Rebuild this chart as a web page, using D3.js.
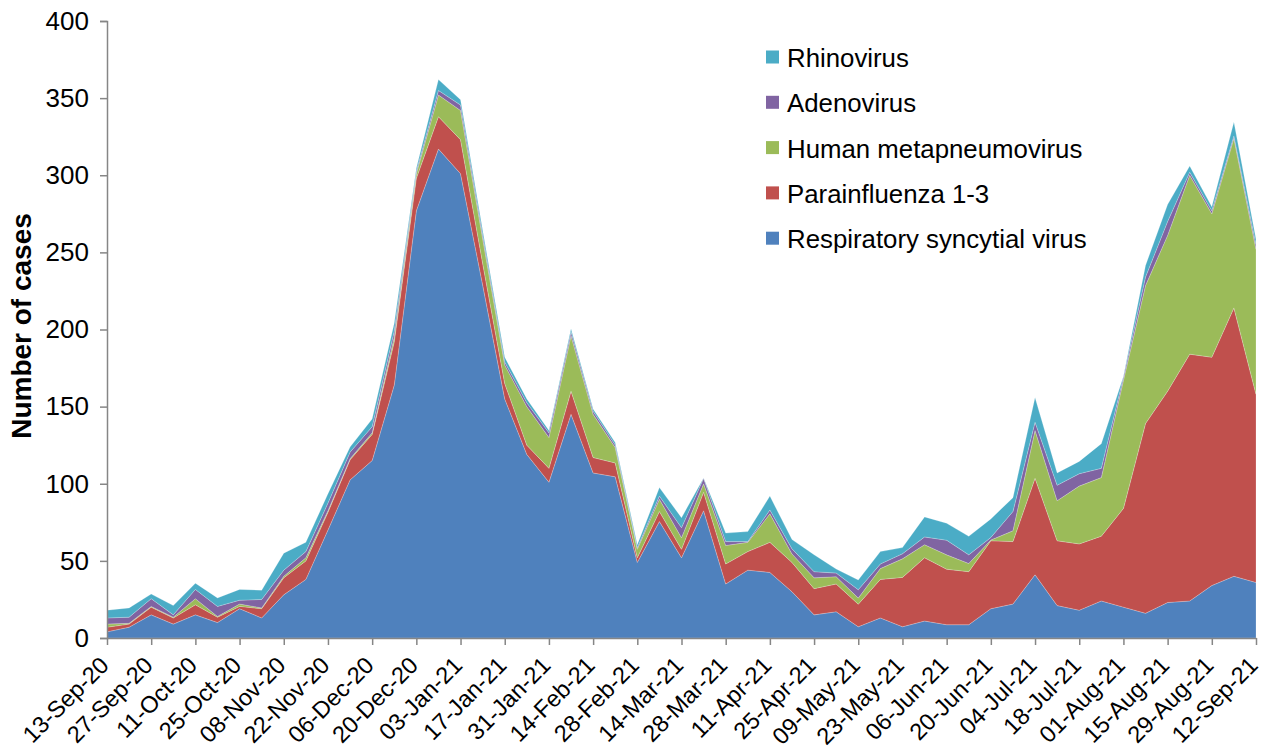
<!DOCTYPE html>
<html><head><meta charset="utf-8">
<script src="https://cdn.jsdelivr.net/npm/d3@7"></script>
<style>body{margin:0;background:#fff}svg{display:block}</style>
</head><body>
<svg id="c" width="1266" height="753"></svg>
<script>
const weeks = ["13-Sep-20","20-Sep-20","27-Sep-20","04-Oct-20","11-Oct-20","18-Oct-20","25-Oct-20","01-Nov-20","08-Nov-20","15-Nov-20","22-Nov-20","29-Nov-20","06-Dec-20","13-Dec-20","20-Dec-20","27-Dec-20","03-Jan-21","10-Jan-21","17-Jan-21","24-Jan-21","31-Jan-21","07-Feb-21","14-Feb-21","21-Feb-21","28-Feb-21","07-Mar-21","14-Mar-21","21-Mar-21","28-Mar-21","04-Apr-21","11-Apr-21","18-Apr-21","25-Apr-21","02-May-21","09-May-21","16-May-21","23-May-21","30-May-21","06-Jun-21","13-Jun-21","20-Jun-21","27-Jun-21","04-Jul-21","11-Jul-21","18-Jul-21","25-Jul-21","01-Aug-21","08-Aug-21","15-Aug-21","22-Aug-21","29-Aug-21","05-Sep-21","12-Sep-21"];
const tickLabels = ["13-Sep-20","27-Sep-20","11-Oct-20","25-Oct-20","08-Nov-20","22-Nov-20","06-Dec-20","20-Dec-20","03-Jan-21","17-Jan-21","31-Jan-21","14-Feb-21","28-Feb-21","14-Mar-21","28-Mar-21","11-Apr-21","25-Apr-21","09-May-21","23-May-21","06-Jun-21","20-Jun-21","04-Jul-21","18-Jul-21","01-Aug-21","15-Aug-21","29-Aug-21","12-Sep-21"];
const yTicks = [0,50,100,150,200,250,300,350,400];
const seriesNames = ["Respiratory syncytial virus","Parainfluenza 1-3","Human metapneumovirus","Adenovirus","Rhinovirus"];
const seriesColors = ["#4F81BD","#C0504D","#9BBB59","#8064A2","#4BACC6"];

const rsv = [4,7,15,9,15,10,19,13,28,38,70,102.5,115,164,277,317,301,229,155,119,101,145,107,104.5,49,75.5,52,82.5,35,44,42.5,30,15,17,7.3,13,7.3,11,8.6,8.6,19,22,41,21,18,24,20,16,23,24,34,40,36];
const para = [3,2,5,4,6.5,3.5,1.5,6,11,12,11.5,13,17,28,21,21,22,14,10,6,9,15,10,9,3,6.5,5.5,12,13,12,19.5,19,17,18,14.6,25,32,41,36,34.4,44,40.5,62.5,42,43,42,64,123,137,160,148,174,122];
const hmpv = [2,0.5,0.5,0.5,4,0.5,1.5,0.5,1,2,1,0.7,1,3,3,14,19,16,12,25,20,36,28,10,5.5,8,7.5,5.5,12,6,18.5,5.5,7,4.7,4,7,12,8.5,9.3,5.3,0.5,7,31,26,37.5,38,83,89.5,101,116,93,110,94];
const adeno = [4,4,5,1.5,6,6.5,2.5,5.5,4,4,5,4.3,4,4,1.5,3,3.5,2.5,2,2.5,3,2.5,2,1.7,1,2,6.5,3.5,2.5,0.5,2.5,3.3,4,2.4,5.4,3,3.3,5,9.5,5.6,1.7,12.5,5.4,10,8,6,2,5.5,9,2,2,1.5,3];
const rhino = [5,6,3,6,4,5.5,7,6,11,6,6,3.3,5,5,2,7,3.5,3,3,2.5,1.5,2,1.5,1.5,2,5.5,6.5,0.3,5.5,6.5,9,6,11,2.6,6.3,8,4,13,11,12,12,9,16,8,8,16,0.5,7.5,11,4,2.5,9,3.5];

const seriesValues = [rsv, para, hmpv, adeno, rhino];
const table = weeks.map((w, i) => {
  const o = {week: w};
  seriesNames.forEach((n, k) => o[n] = seriesValues[k][i]);
  return o;
});

const svg = d3.select("#c");
const FONT = "'Liberation Sans', Arial, sans-serif";
const x = d3.scalePoint().domain(weeks).range([107, 1256]);
const y = d3.scaleLinear().domain([0, 400]).range([638, 21]);

const stacked = d3.stack().keys(seriesNames)(table);
const area = d3.area()
  .x(d => x(d.data.week))
  .y0(d => y(d[0]))
  .y1(d => y(d[1]));

svg.append("g").selectAll("path").data(stacked).join("path")
  .attr("d", area)
  .attr("fill", (d, i) => seriesColors[i])
  .attr("stroke", "rgba(255,255,255,0.35)")
  .attr("stroke-width", 0.6);

const axisColor = "#868686";
const yAxis = svg.append("g").attr("transform", "translate(107,0)")
  .call(d3.axisLeft(y).tickValues(yTicks).tickSize(7).tickPadding(11).tickFormat(d3.format("d")));
yAxis.select(".domain").attr("stroke", axisColor).attr("stroke-width", 1.5);
yAxis.selectAll(".tick line").attr("stroke", axisColor).attr("stroke-width", 1.5);
yAxis.selectAll(".tick text").attr("font-family", FONT).attr("font-size", 26).attr("fill", "#000");

const xAxis = svg.append("g").attr("transform", "translate(0,638)")
  .call(d3.axisBottom(x).tickValues(tickLabels).tickSize(7).tickSizeOuter(0));
xAxis.select(".domain").attr("stroke", axisColor).attr("stroke-width", 1.5);
xAxis.selectAll(".tick line").attr("stroke", axisColor).attr("stroke-width", 1.5);
xAxis.selectAll(".tick text")
  .attr("font-family", FONT).attr("font-size", 23.5).attr("fill", "#000")
  .attr("text-anchor", "end")
  .attr("dy", null).attr("y", null)
  .attr("dominant-baseline", "central")
  .attr("transform", "translate(-3,23) rotate(-45)");

svg.append("text")
  .attr("transform", "translate(21,326) rotate(-90)")
  .attr("text-anchor", "middle").attr("dominant-baseline", "central")
  .attr("font-family", FONT).attr("font-weight", "bold").attr("font-size", 28)
  .text("Number of cases");

const legendOrder = [4,3,2,1,0];
const lg = svg.append("g");
legendOrder.forEach((k, j) => {
  const cy = 57 + j * 45.3;
  lg.append("rect").attr("x", 766).attr("y", cy - 6.5).attr("width", 13).attr("height", 13).attr("fill", seriesColors[k]);
  lg.append("text").attr("x", 787).attr("y", cy + 1).attr("dominant-baseline", "central")
    .attr("font-family", FONT).attr("font-size", 25.8).attr("fill", "#000").text(seriesNames[k]);
});
</script>
</body></html>
